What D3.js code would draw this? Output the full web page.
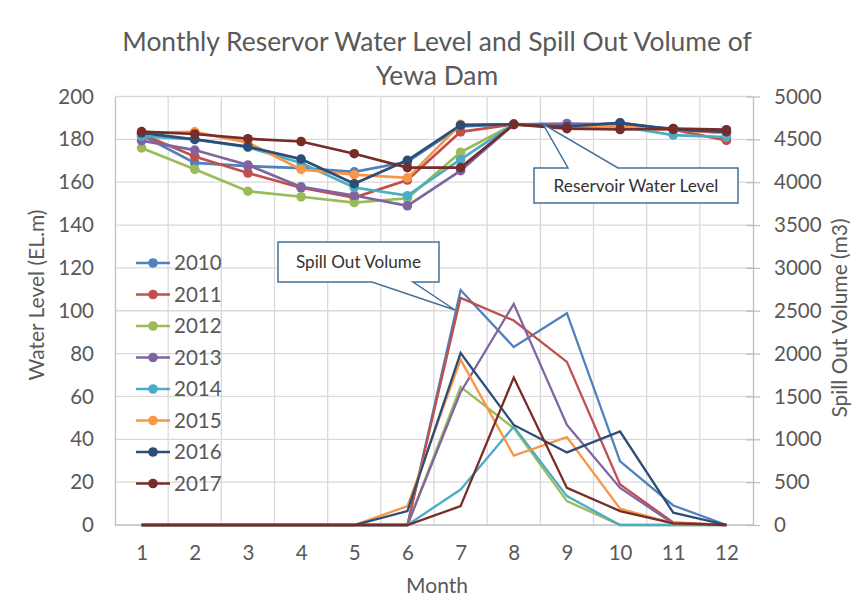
<!DOCTYPE html>
<html>
<head>
<meta charset="utf-8">
<script src="https://cdn.jsdelivr.net/npm/d3@7"></script>
<style>
  body { margin: 0; background: #fff; }
  svg { display: block; }
  text { font-family: Lato, "Open Sans", sans-serif; }
</style>
</head>
<body>
<svg id="chart" width="854" height="603"></svg>
<script>
// ---- data ----
const months = [1, 2, 3, 4, 5, 6, 7, 8, 9, 10, 11, 12];
const years = ["2010", "2011", "2012", "2013", "2014", "2015", "2016", "2017"];
const yearColors = ["#4F81BD", "#C0504D", "#9BBB59", "#8064A2", "#4BACC6", "#F79646", "#2C4D75", "#772C2A"];

// reservoir water level (EL.m), one value per month
const level2010 = [182.0, 169.0, 167.5, 166.6, 164.8, 169.5, 186.0, 187.0, 186.0, 187.7, 184.5, 183.0];
const level2011 = [182.5, 172.0, 164.3, 157.4, 152.8, 161.0, 183.5, 187.0, 185.5, 185.0, 184.5, 179.5];
const level2012 = [176.0, 166.0, 155.8, 153.2, 150.5, 152.5, 174.0, 187.0, 186.0, 186.0, 184.5, 183.0];
const level2013 = [179.4, 175.0, 168.0, 157.8, 153.8, 149.0, 165.4, 187.0, 187.4, 187.0, 185.0, 183.0];
const level2014 = [181.5, 180.0, 176.3, 169.0, 157.5, 153.7, 170.6, 187.0, 186.0, 186.0, 182.0, 181.0];
const level2015 = [183.0, 183.5, 178.5, 166.0, 163.5, 162.0, 187.0, 187.0, 186.0, 186.0, 184.5, 183.0];
const level2016 = [183.0, 180.0, 176.6, 170.8, 159.3, 170.2, 186.6, 187.0, 186.0, 187.7, 184.5, 183.5];
const level2017 = [183.6, 182.5, 180.3, 179.0, 173.3, 166.8, 166.8, 187.0, 185.0, 184.6, 185.0, 184.5];

// spill out volume (m3), one value per month
const spill2010 = [0, 0, 0, 0, 0, 0, 2742, 2077, 2471, 743, 228, 0];
const spill2011 = [0, 0, 0, 0, 0, 0, 2650, 2386, 1903, 472, 30, 0];
const spill2012 = [0, 0, 0, 0, 0, 0, 1612, 1130, 279, 0, 0, 0];
const spill2013 = [0, 0, 0, 0, 0, 0, 1550, 2580, 1168, 433, 15, 0];
const spill2014 = [0, 0, 0, 0, 0, 0, 414, 1149, 337, 0, 0, 0];
const spill2015 = [0, 0, 0, 0, 0, 220, 1930, 809, 1025, 190, 20, 0];
const spill2016 = [0, 0, 0, 0, 0, 162, 2007, 1168, 847, 1091, 143, 0];
const spill2017 = [0, 0, 0, 0, 0, 0, 220, 1721, 433, 163, 20, 0];

const levelTicks = [0, 20, 40, 60, 80, 100, 120, 140, 160, 180, 200];
const spillTicks = [0, 500, 1000, 1500, 2000, 2500, 3000, 3500, 4000, 4500, 5000];

const levelSeries = [level2010, level2011, level2012, level2013, level2014, level2015, level2016, level2017];
const spillSeries = [spill2010, spill2011, spill2012, spill2013, spill2014, spill2015, spill2016, spill2017];

// ---- layout ----
const plot = { left: 115, right: 753, top: 96.5, bottom: 525 };
const svg = d3.select("#chart");
const textGray = "#595959";
const gridColor = "#D9D9D9";
const tickFont = "20.5px";
const axisTitleFont = "21px";

const x = d3.scalePoint().domain(months).range([plot.left, plot.right]).padding(0.5);
const yL = d3.scaleLinear().domain([0, 200]).range([plot.bottom, plot.top]);
const yR = d3.scaleLinear().domain([0, 5000]).range([plot.bottom, plot.top]);

// scale a text's font size so that it spans a given width
function fitWidth(sel, width) {
  sel.style("font-size", "20px");
  const w = sel.node().getComputedTextLength();
  sel.style("font-size", (20 * width / w) + "px");
  return sel;
}

// ---- grid ----
const grid = svg.append("g");
grid.selectAll("line.h").data(levelTicks.slice(1)).join("line")
  .attr("x1", plot.left).attr("x2", plot.right)
  .attr("y1", d => yL(d)).attr("y2", d => yL(d))
  .attr("stroke", gridColor).attr("stroke-width", 1.3);
const step = x.step();
grid.selectAll("line.v").data(months.slice(1)).join("line")
  .attr("x1", d => x(d) - step / 2).attr("x2", d => x(d) - step / 2)
  .attr("y1", plot.top).attr("y2", plot.bottom)
  .attr("stroke", gridColor).attr("stroke-width", 1.3);

// ---- axes ----
const axisColor = "#BFBFBF";
const styleAxis = g => {
  g.select(".domain").attr("stroke", axisColor).attr("stroke-width", 1.3);
  g.selectAll(".tick line").attr("stroke", axisColor).attr("stroke-width", 1.3);
  g.selectAll(".tick text").attr("fill", textGray)
    .style("font-size", tickFont).style("font-family", "Lato, 'Open Sans', sans-serif");
};

svg.append("g")
  .attr("transform", `translate(${plot.left},0)`)
  .call(d3.axisLeft(yL).tickValues(levelTicks).tickSize(0).tickPadding(21))
  .call(styleAxis);

svg.append("g")
  .attr("transform", `translate(${plot.right},0)`)
  .call(d3.axisRight(yR).tickValues(spillTicks).tickFormat(d3.format("d"))
    .tickSizeInner(7).tickSizeOuter(0).tickPadding(14))
  .call(styleAxis)
  .call(g => g.selectAll(".tick line").attr("x1", -7));

svg.append("g")
  .attr("transform", `translate(0,${plot.bottom})`)
  .call(d3.axisBottom(x).tickSize(0).tickPadding(20))
  .call(styleAxis)
  .call(g => g.select(".domain").attr("d", `M${plot.left},0H${plot.right}`));

// ---- spill out volume lines ----
const spillLine = d3.line().x((d, i) => x(months[i])).y(d => yR(d));
svg.append("g").selectAll("path").data(spillSeries).join("path")
  .attr("d", spillLine)
  .attr("fill", "none")
  .attr("stroke", (d, i) => yearColors[i])
  .attr("stroke-width", 2.3)
  .attr("stroke-linejoin", "miter");

// ---- water level lines with markers ----
const levelLine = d3.line().x((d, i) => x(months[i])).y(d => yL(d));
const lv = svg.append("g");
levelSeries.forEach((s, i) => {
  lv.append("path").attr("d", levelLine(s))
    .attr("fill", "none").attr("stroke", yearColors[i]).attr("stroke-width", 2.7);
  lv.selectAll(null).data(s).join("circle")
    .attr("cx", (d, j) => x(months[j])).attr("cy", d => yL(d))
    .attr("r", 4.8).attr("fill", yearColors[i]);
});

// ---- legend ----
const legend = svg.append("g");
years.forEach((yr, i) => {
  const ly = 263 + i * 31.5;
  legend.append("line").attr("x1", 136).attr("x2", 170).attr("y1", ly).attr("y2", ly)
    .attr("stroke", yearColors[i]).attr("stroke-width", 2.7);
  legend.append("circle").attr("cx", 153).attr("cy", ly).attr("r", 4.8).attr("fill", yearColors[i]);
  legend.append("text").attr("x", 174).attr("y", ly).attr("dy", "0.35em")
    .attr("fill", textGray).style("font-size", tickFont).text(yr);
});

// ---- callouts ----
function callout(box, wedge, label, textWidth) {
  const [x0, y0, x1, y1] = box;
  const [b0, b1, tx, ty, side] = wedge;
  let d;
  if (side === "bottom") {
    d = `M${x0},${y0}H${x1}V${y1}H${b1}L${tx},${ty}L${b0},${y1}H${x0}Z`;
  } else {
    d = `M${x0},${y0}H${b0}L${tx},${ty}L${b1},${y0}H${x1}V${y1}H${x0}Z`;
  }
  svg.append("path").attr("d", d).attr("fill", "#fff")
    .attr("stroke", "#41719C").attr("stroke-width", 1.5).attr("stroke-linejoin", "miter");
  const t = svg.append("text").attr("x", (x0 + x1) / 2).attr("y", (y0 + y1) / 2)
    .attr("dy", "0.35em").attr("text-anchor", "middle").attr("fill", "#333").text(label);
  fitWidth(t, textWidth);
}
callout([278, 242, 439, 282], [372, 413, 455, 310, "bottom"], "Spill Out Volume", 125);
callout([534, 168, 738, 203], [568, 618, 543, 124, "top"], "Reservoir Water Level", 165);

// ---- titles ----
const t1 = svg.append("text").attr("x", 437).attr("y", 51).attr("text-anchor", "middle")
  .attr("fill", textGray).text("Monthly Reservor Water Level and Spill Out Volume of");
fitWidth(t1, 630);
svg.append("text").attr("x", 437).attr("y", 85).attr("text-anchor", "middle")
  .attr("fill", textGray).style("font-size", t1.style("font-size")).text("Yewa Dam");

svg.append("text").attr("x", 437).attr("y", 593).attr("text-anchor", "middle")
  .attr("fill", textGray).style("font-size", axisTitleFont).text("Month");

svg.append("text").attr("transform", "translate(37,295) rotate(-90)")
  .attr("text-anchor", "middle").attr("dy", "0.35em").attr("fill", textGray)
  .style("font-size", axisTitleFont).text("Water Level (EL.m)");

svg.append("text").attr("transform", "translate(840,318) rotate(-90)")
  .attr("text-anchor", "middle").attr("dy", "0.35em").attr("fill", textGray)
  .style("font-size", axisTitleFont).text("Spill Out Volume (m3)");
</script>
</body>
</html>
